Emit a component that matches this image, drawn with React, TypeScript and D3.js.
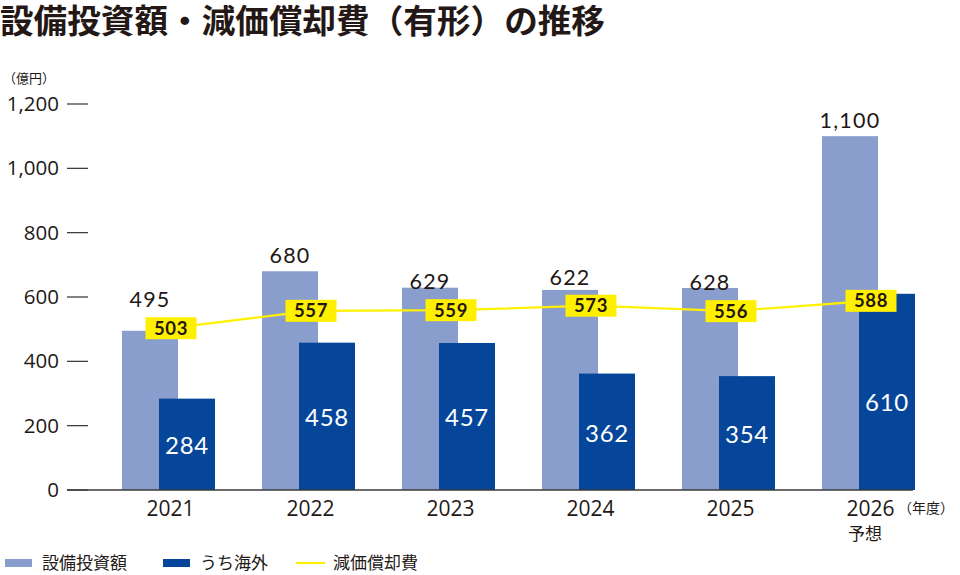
import React from "react";
import * as d3 from "d3";

const years = ["2021", "2022", "2023", "2024", "2025", "2026"];
const capex = [495, 680, 629, 622, 628, 1100];
const overseas = [284, 458, 457, 362, 354, 610];
const depreciation = [503, 557, 559, 573, 556, 588];
const yTicks = [0, 200, 400, 600, 800, 1000, 1200];

const W = 960;
const H = 575;
const LIGHT = "#8a9ece";
const DARK = "#06469a";
const YELLOW = "#fff000";
const TEXT = "#231815";
const NUM_FONT = "Lato, 'Open Sans', sans-serif";
const AX_FONT = "'Open Sans', 'Noto Sans', sans-serif";
const JP_FONT = "'Noto Sans CJK JP', sans-serif";

export default function App() {
  const x = d3.scaleBand<string>().domain(years).range([101, 941]).paddingInner(0).paddingOuter(0);
  const y = d3.scaleLinear().domain([0, 1200]).range([490, 104]);
  const bw = 56;
  const cx = (i: number) => (x(years[i]) as number) + x.bandwidth() / 2;
  const lightX = (i: number) => cx(i) - 49;
  const darkX = (i: number) => cx(i) - 12;
  const boxW = 51;
  const boxH = 22;

  const line = d3
    .line<number>()
    .x((_, i) => cx(i))
    .y((d) => y(d));

  return (
    <div style={{ position: "absolute", left: 0, top: 0 }}>
      <svg width={W} height={H} style={{ display: "block", background: "#fff" }}>
        <text x={0} y={33} fontFamily={JP_FONT} fontWeight={700} fontSize={32.5} fill={TEXT} textLength={605} lengthAdjust="spacingAndGlyphs">
          設備投資額・減価償却費（有形）の推移
        </text>
        <text x={3} y={83} fontFamily={JP_FONT} fontSize={13} fill={TEXT}>
          （億円）
        </text>
        {yTicks.map((t) => (
          <g key={t}>
            <text x={59} y={y(t) + 7} textAnchor="end" fontFamily={AX_FONT} fontSize={20.5} fill={TEXT}>
              {d3.format(",")(t)}
            </text>
            <line x1={67} x2={88} y1={y(t)} y2={y(t)} stroke="#333" strokeWidth={1.2} />
          </g>
        ))}
        {years.map((yr, i) => (
          <g key={yr}>
            <rect x={lightX(i)} y={y(capex[i])} width={bw} height={y(0) - y(capex[i])} fill={LIGHT} />
            <rect x={darkX(i)} y={y(overseas[i])} width={bw} height={y(0) - y(overseas[i])} fill={DARK} />
          </g>
        ))}
        <line x1={67} x2={913} y1={y(0)} y2={y(0)} stroke="#3a3a3a" strokeWidth={1.6} />
        <path d={line(depreciation) || ""} fill="none" stroke={YELLOW} strokeWidth={2.2} />
        {years.map((yr, i) => {
          const top = y(capex[i]);
          const ly = y(depreciation[i]);
          const collide = Math.abs(top - ly) < 30;
          const labelBase = collide ? ly - boxH / 2 - 10 : top - 8;
          const dTop = y(overseas[i]);
          const boxBottom = ly + boxH / 2;
          const innerTop = Math.max(dTop, boxBottom);
          const darkMid = (innerTop + y(0)) / 2;
          return (
            <g key={"l" + yr}>
              <text x={lightX(i) + bw / 2} y={labelBase} textAnchor="middle" fontFamily={NUM_FONT} fontSize={21.5} letterSpacing={1.2} fill={TEXT}>
                {d3.format(",")(capex[i])}
              </text>
              <text x={darkX(i) + bw / 2} y={darkMid + 10} textAnchor="middle" fontFamily={NUM_FONT} fontSize={24} letterSpacing={0.8} fill="#fff">
                {overseas[i]}
              </text>
              <rect x={cx(i) - boxW / 2} y={ly - boxH / 2} width={boxW} height={boxH} fill={YELLOW} />
              <text x={cx(i)} y={ly + 6.5} textAnchor="middle" fontFamily={NUM_FONT} fontWeight={700} fontSize={18.5} letterSpacing={0.6} fill={TEXT}>
                {depreciation[i]}
              </text>
              <text x={cx(i) - 0.5} y={516} textAnchor="middle" fontFamily={AX_FONT} fontSize={21} fill={TEXT}>
                {yr}
              </text>
            </g>
          );
        })}
        <text x={898} y={513} fontFamily={JP_FONT} fontSize={14} fill={TEXT}>
          （年度）
        </text>
        <text x={cx(5) - 6} y={540} textAnchor="middle" fontFamily={JP_FONT} fontSize={17} fill={TEXT}>
          予想
        </text>
        <rect x={5} y={559} width={27} height={8} fill={LIGHT} />
        <text x={42} y={569} fontFamily={JP_FONT} fontSize={17} fill={TEXT}>設備投資額</text>
        <rect x={163} y={559} width={27} height={8} fill={DARK} />
        <text x={200} y={569} fontFamily={JP_FONT} fontSize={17} fill={TEXT}>うち海外</text>
        <line x1={296} x2={325} y1={563} y2={563} stroke={YELLOW} strokeWidth={2.2} />
        <text x={333} y={569} fontFamily={JP_FONT} fontSize={17} fill={TEXT}>減価償却費</text>
      </svg>
    </div>
  );
}
